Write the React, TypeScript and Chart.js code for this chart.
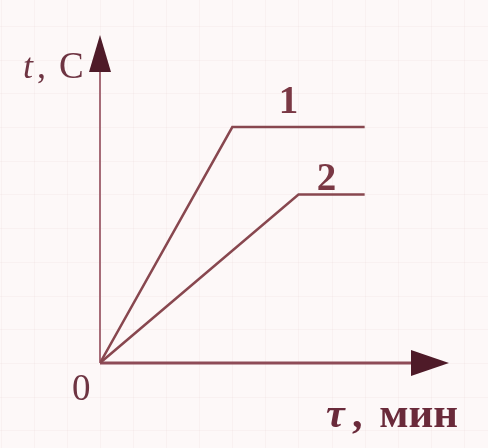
import React, { useEffect, useRef } from 'react'
import { Chart, registerables } from 'chart.js'

Chart.register(...registerables)

// time in minutes, temperature in conventional units
const curve1Time = [0, 4, 8]
const curve1Temp = [0, 7, 7]
const curve2Time = [0, 6, 8]
const curve2Temp = [0, 5, 5]
const curveLabels = ['1', '2']
const labelTime = [5.7, 6.85]
const labelTemp = [7.42, 5.12]
const xTitle = ['τ', ',', 'мин']
const yTitle = ['t', ',', 'C']
const originLabel = '0'

const ink = '#88474f'
const dark = '#4e1a28'

const toPoints = (xs: number[], ys: number[]) => xs.map((x, i) => ({ x, y: ys[i] }))

const diagramPlugin = {
  id: 'diagram',
  beforeDraw(chart: any) {
    const { ctx, width, height } = chart
    const xs = chart.scales.x
    const ys = chart.scales.y
    ctx.save()
    ctx.fillStyle = '#fdf8f8'
    ctx.fillRect(0, 0, width, height)
    // faint squared paper
    ctx.strokeStyle = 'rgba(205, 160, 170, 0.08)'
    ctx.lineWidth = 1
    for (let v = -4; v <= 13; v++) {
      const px = Math.round(xs.getPixelForValue(v)) + 0.5
      ctx.beginPath()
      ctx.moveTo(px, 0)
      ctx.lineTo(px, height)
      ctx.stroke()
      const py = Math.round(ys.getPixelForValue(v)) + 0.5
      ctx.beginPath()
      ctx.moveTo(0, py)
      ctx.lineTo(width, py)
      ctx.stroke()
    }
    ctx.restore()
  },
  beforeDatasetsDraw(chart: any) {
    const { ctx, chartArea } = chart
    const xs = chart.scales.x
    const ys = chart.scales.y
    const ox = xs.getPixelForValue(0)
    const oy = ys.getPixelForValue(0)
    ctx.save()
    // y axis
    ctx.strokeStyle = '#a66c78'
    ctx.lineWidth = 2
    ctx.beginPath()
    ctx.moveTo(ox, oy)
    ctx.lineTo(ox, chartArea.top + 36)
    ctx.stroke()
    // x axis
    ctx.strokeStyle = '#8e4b57'
    ctx.lineWidth = 3
    ctx.beginPath()
    ctx.moveTo(ox, oy)
    ctx.lineTo(chartArea.right - 36, oy)
    ctx.stroke()
    // arrow heads
    ctx.fillStyle = dark
    ctx.beginPath()
    ctx.moveTo(ox, chartArea.top)
    ctx.lineTo(ox - 11, chartArea.top + 37)
    ctx.lineTo(ox + 11, chartArea.top + 37)
    ctx.closePath()
    ctx.fill()
    ctx.beginPath()
    ctx.moveTo(chartArea.right, oy)
    ctx.lineTo(chartArea.right - 38, oy - 13)
    ctx.lineTo(chartArea.right - 38, oy + 13)
    ctx.closePath()
    ctx.fill()
    ctx.restore()
  },
  afterDraw(chart: any) {
    const { ctx, chartArea } = chart
    const xs = chart.scales.x
    const ys = chart.scales.y
    const ox = xs.getPixelForValue(0)
    const oy = ys.getPixelForValue(0)
    ctx.save()
    ctx.textBaseline = 'alphabetic'
    ctx.textAlign = 'left'
    // y title
    ctx.fillStyle = '#6e3442'
    ctx.font = 'italic 36px "Liberation Serif"'
    ctx.fillText(yTitle[0], ox - 77, chartArea.top + 43)
    ctx.font = '36px "Liberation Serif"'
    ctx.fillText(yTitle[1], ox - 63, chartArea.top + 43)
    ctx.font = '37px "Liberation Serif"'
    ctx.fillText(yTitle[2], ox - 41, chartArea.top + 43)
    // origin
    ctx.font = '37px "Liberation Serif"'
    ctx.fillText(originLabel, ox - 28, oy + 37)
    // x title
    ctx.fillStyle = '#6a2a3a'
    ctx.font = 'italic bold 42px "Liberation Serif"'
    ctx.fillText(xTitle[0], ox + 226, oy + 64)
    ctx.font = 'bold 42px "Liberation Serif"'
    ctx.fillText(xTitle[1], ox + 252, oy + 64)
    ctx.textAlign = 'right'
    ctx.font = 'bold 43px "Liberation Serif"'
    ctx.fillText(xTitle[2], chartArea.right + 9, oy + 64)
    // curve numbers
    ctx.fillStyle = '#7a3844'
    ctx.font = 'bold 39px "Liberation Serif"'
    ctx.textAlign = 'center'
    curveLabels.forEach((lab, i) => {
      ctx.fillText(lab, xs.getPixelForValue(labelTime[i]), ys.getPixelForValue(labelTemp[i]))
    })
    ctx.restore()
  }
}

const App = () => {
  const chartRef = useRef<HTMLCanvasElement>(null)
  const chartInstanceRef = useRef<Chart | null>(null)

  useEffect(() => {
    const ctx = chartRef.current!.getContext('2d')!

    chartInstanceRef.current = new Chart(ctx, {
      type: 'line',
      data: {
        datasets: [
          {
            label: curveLabels[0],
            data: toPoints(curve1Time, curve1Temp),
            borderColor: ink,
            borderWidth: 2.5,
            pointRadius: 0,
            tension: 0
          },
          {
            label: curveLabels[1],
            data: toPoints(curve2Time, curve2Temp),
            borderColor: ink,
            borderWidth: 2.5,
            pointRadius: 0,
            tension: 0
          }
        ]
      },
      options: {
        animation: false,
        responsive: true,
        maintainAspectRatio: false,
        layout: { padding: { left: 100, right: 39, top: 35, bottom: 85 } },
        plugins: { legend: { display: false }, tooltip: { enabled: false } },
        scales: {
          x: { type: 'linear', min: 0, max: 10.55, display: false },
          y: { type: 'linear', min: 0, max: 9.73, display: false }
        }
      },
      plugins: [diagramPlugin]
    })

    return () => {
      chartInstanceRef.current?.destroy()
    }
  }, [])

  return (
    <div style={{ position: 'absolute', left: 0, top: 0, width: 488, height: 448 }}>
      <canvas ref={chartRef}></canvas>
    </div>
  )
}

export default App
